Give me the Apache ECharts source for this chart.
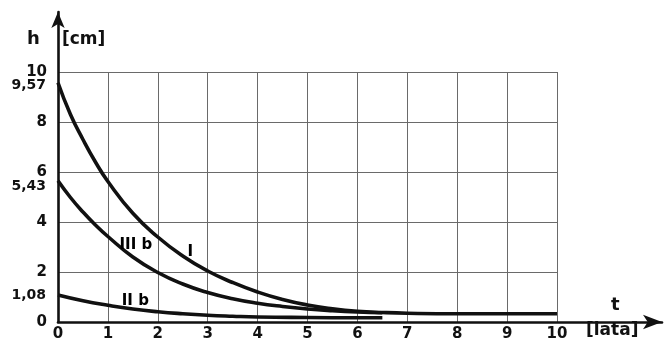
<!DOCTYPE html>
<html>
<head>
<meta charset="utf-8">
<script src="https://cdn.jsdelivr.net/npm/echarts@6/dist/echarts.min.js"></script>
<style>html,body{margin:0;padding:0;background:#fff;}#c{width:664px;height:343px;}</style>
</head>
<body>
<div id="c"></div>
<script>
// ---- data ----
var xTicks = [0,1,2,3,4,5,6,7,8,9,10];
var yTicks = [0,2,4,6,8,10];
var yExtraLabels = [1.08, 5.43, 9.57];

var tI = [0,0.25,0.5,0.75,1,1.5,2,2.5,3,3.5,4,4.5,5,5.5,6,6.5,7,8,9,10];
var hI = [9.57,8.3,7.3,6.4,5.62,4.35,3.4,2.64,2.04,1.58,1.2,0.9,0.68,0.53,0.43,0.38,0.35,0.33,0.33,0.33];

var tIIIb = [0,0.25,0.5,0.75,1,1.5,2,2.5,3,3.5,4,4.5,5,5.5,6,6.5];
var hIIIb = [5.65,4.98,4.4,3.88,3.42,2.6,1.98,1.52,1.18,0.93,0.75,0.62,0.52,0.45,0.4,0.37];

var tIIb = [0,0.5,1,1.5,2,2.5,3,3.5,4,5,6,6.5];
var hIIb = [1.08,0.85,0.67,0.52,0.41,0.33,0.27,0.23,0.2,0.18,0.17,0.17];

var curveLabels = [[1.56,3.08,'III b'],[2.65,2.78,'I'],[1.55,0.84,'II b']];

function pairs(t,h){ return t.map(function(v,i){ return [v,h[i]]; }); }

var FONT = 'DejaVu Sans';
var INK = '#111111';

var chart = echarts.init(document.getElementById('c'), null, {renderer:'canvas'});
var lineStyle = {color: INK, width: 3.6};
chart.setOption({
  animation: false,
  backgroundColor: '#fff',
  grid: [
    {left: 58, top: 72, right: 107, bottom: 21},
    {left: 58, top: 12, right: 2, bottom: 21}
  ],
  xAxis: [
    {gridIndex:0, type:'value', min:0, max:10, interval:1,
     axisLine:{show:false}, axisTick:{show:false},
     axisLabel:{fontFamily:FONT, fontSize:15, fontWeight:'bold', color:INK, margin:5},
     splitLine:{show:true, lineStyle:{color:'#6a6a6a', width:1}}},
    {gridIndex:1, type:'value', min:0, max:1,
     axisLine:{show:true, lineStyle:{color:INK, width:2.6}, symbol:['none','arrow'], symbolSize:[11,19]},
     axisTick:{show:false}, axisLabel:{show:false}, splitLine:{show:false}}
  ],
  yAxis: [
    {gridIndex:0, type:'value', min:0, max:10, interval:2,
     axisLine:{show:false}, axisTick:{show:false},
     axisLabel:{fontFamily:FONT, fontSize:15, fontWeight:'bold', color:INK, margin:11},
     splitLine:{show:true, lineStyle:{color:'#6a6a6a', width:1}}},
    {gridIndex:0, type:'value', min:0, max:10, position:'left',
     axisLine:{show:false}, axisTick:{show:false}, splitLine:{show:false},
     axisLabel:{customValues: yExtraLabels, fontFamily:FONT, fontSize:14, fontWeight:'bold', color:INK, margin:12,
       formatter:function(v){ return v === 9.57 ? '{d|9,57}' : v.toFixed(2).replace('.', ','); },
       rich:{d:{fontFamily:FONT, fontSize:14, fontWeight:'bold', color:INK, padding:[6,0,0,0]}}}},
    {gridIndex:1, type:'value', min:0, max:1,
     axisLine:{show:true, lineStyle:{color:INK, width:2.6}, symbol:['none','arrow'], symbolSize:[10,16]},
     axisTick:{show:false}, axisLabel:{show:false}, splitLine:{show:false}}
  ],
  series: [
    {type:'line', xAxisIndex:0, yAxisIndex:0, data:pairs(tI,hI), smooth:0.5, showSymbol:false, lineStyle:lineStyle, z:5},
    {type:'line', xAxisIndex:0, yAxisIndex:0, data:pairs(tIIIb,hIIIb), smooth:0.5, showSymbol:false, lineStyle:lineStyle, z:5},
    {type:'line', xAxisIndex:0, yAxisIndex:0, data:pairs(tIIb,hIIb), smooth:0.5, showSymbol:false, lineStyle:lineStyle, z:5},
    {type:'scatter', xAxisIndex:0, yAxisIndex:0, data:curveLabels, symbolSize:0, itemStyle:{color:'#fff', opacity:1},
     label:{show:true, position:'inside', fontFamily:FONT, fontSize:15, fontWeight:'bold', color:'#000', opacity:1,
       formatter:function(p){ return p.data[2]; }}, z:6}
  ],
  graphic: [
    {type:'text', left:27, top:30, style:{text:'h', fontFamily:FONT, fontSize:18, fontWeight:'bold', fill:INK}},
    {type:'text', left:62, top:31, style:{text:'[cm]', fontFamily:FONT, fontSize:17, fontWeight:'bold', fill:INK}},
    {type:'text', left:611, top:296, style:{text:'t', fontFamily:FONT, fontSize:18, fontWeight:'bold', fill:INK}},
    {type:'text', left:586, top:322, style:{text:'[lata]', fontFamily:FONT, fontSize:17, fontWeight:'bold', fill:INK}}
  ]
});
</script>
</body>
</html>
